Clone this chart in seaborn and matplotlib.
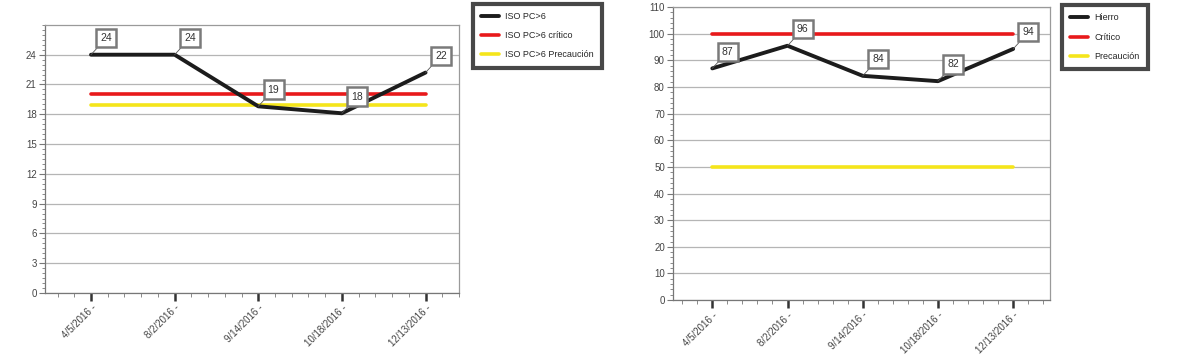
import numpy as np
import pandas as pd
import matplotlib
matplotlib.use("Agg")
import matplotlib.pyplot as plt
from matplotlib.ticker import MultipleLocator, FixedLocator
import seaborn as sns

# datos
fechas = ["4/5/2016 -", "8/2/2016 -", "9/14/2016 -", "10/18/2016 -", "12/13/2016 -"]

iso_valores = [24.0, 24.0, 18.8, 18.1, 22.2]
iso_etiquetas = ["24", "24", "19", "18", "22"]
iso_critico = [20.0, 20.0, 20.0, 20.0, 20.0]
iso_precaucion = [18.9, 18.9, 18.9, 18.9, 18.9]
iso_nombres = ["ISO PC>6", "ISO PC>6 crítico", "ISO PC>6 Precaución"]
iso_ticks = [0, 3, 6, 9, 12, 15, 18, 21, 24]

hierro_valores = [87.0, 95.5, 84.2, 82.2, 94.3]
hierro_etiquetas = ["87", "96", "84", "82", "94"]
hierro_critico = [100, 100, 100, 100, 100]
hierro_precaucion = [50, 50, 50, 50, 50]
hierro_nombres = ["Hierro", "Crítico", "Precaución"]
hierro_ticks = [0, 10, 20, 30, 40, 50, 60, 70, 80, 90, 100, 110]

sns.set_theme(style="white")
plt.rcParams["font.family"] = ["Liberation Sans Narrow", "Liberation Sans", "DejaVu Sans"]

fig = plt.figure(figsize=(12, 3.56), dpi=100)
ax1 = fig.add_axes([0.0375, 0.177, 0.345, 0.753])
ax2 = fig.add_axes([0.561, 0.157, 0.314, 0.823])


def dibujar(ax, valores, etiquetas, critico, precaucion, nombres, ticks,
            ymax, menor, xlim, leg_box):
    pos = np.arange(len(fechas))
    df = pd.DataFrame({"x": pos, "v": valores, "c": critico, "p": precaucion})

    sns.lineplot(data=df, x="x", y="c", ax=ax, color="#e8191b", lw=2.6, label=nombres[1], zorder=3)
    sns.lineplot(data=df, x="x", y="p", ax=ax, color="#f5e51b", lw=2.6, label=nombres[2], zorder=3)
    sns.lineplot(data=df, x="x", y="v", ax=ax, color="#1c1c1c", lw=2.8, label=nombres[0], zorder=4)

    for xi, yi, txt in zip(pos, valores, etiquetas):
        ax.annotate(txt, xy=(xi, yi), xytext=(11, 12), textcoords="offset points",
                    ha="center", va="center", fontsize=7.5, color="#333333",
                    bbox=dict(boxstyle="square,pad=0.4", fc="white", ec="#7a7a7a", lw=1.8),
                    arrowprops=dict(arrowstyle="-", color="#555555", lw=0.6,
                                    shrinkA=0, shrinkB=0),
                    zorder=6)

    ax.set_xlim(*xlim)
    ax.set_ylim(0, ymax)
    ax.set_xticks(pos)
    ax.set_xticklabels(fechas, rotation=45, ha="right", rotation_mode="anchor",
                       fontsize=7, color="#444444")
    ax.xaxis.set_minor_locator(MultipleLocator(0.2))
    ax.yaxis.set_major_locator(FixedLocator(ticks))
    ax.yaxis.set_minor_locator(MultipleLocator(menor))
    ax.tick_params(axis="y", which="major", labelsize=7, labelcolor="#444444",
                   length=4, width=0.8, color="#777777", left=True, pad=2)
    ax.tick_params(axis="y", which="minor", length=2, width=0.6, color="#777777", left=True)
    ax.tick_params(axis="x", which="major", length=6, width=1.8, color="#333333", bottom=True, pad=1)
    ax.tick_params(axis="x", which="minor", length=3, width=0.6, color="#777777", bottom=True)
    ax.grid(axis="y", which="major", color="#b5b5b5", lw=0.9)
    ax.set_xlabel("")
    ax.set_ylabel("")
    for s in ax.spines.values():
        s.set_color("#9a9a9a")
        s.set_linewidth(0.9)
    ax.spines["left"].set_color("#777777")
    ax.spines["bottom"].set_color("#777777")

    handles, labels = ax.get_legend_handles_labels()
    orden = [2, 0, 1]
    leg = fig.legend([handles[i] for i in orden], [labels[i] for i in orden],
                     loc="upper left", bbox_to_anchor=leg_box, fontsize=6.5,
                     frameon=True, fancybox=False, edgecolor="#1a1a1a",
                     borderpad=0.9, labelspacing=1.15, handlelength=2.0,
                     handletextpad=0.7, borderaxespad=0)
    leg.get_frame().set_linewidth(3)
    ax.get_legend().remove()


dibujar(ax1, iso_valores, iso_etiquetas, iso_critico, iso_precaucion, iso_nombres,
        iso_ticks, 27, 0.5, (-0.55, 4.4), (0.394, 0.99))
dibujar(ax2, hierro_valores, hierro_etiquetas, hierro_critico, hierro_precaucion,
        hierro_nombres, hierro_ticks, 110, 2, (-0.52, 4.49), (0.885, 0.985))

fig.savefig("out.png", dpi=100)
